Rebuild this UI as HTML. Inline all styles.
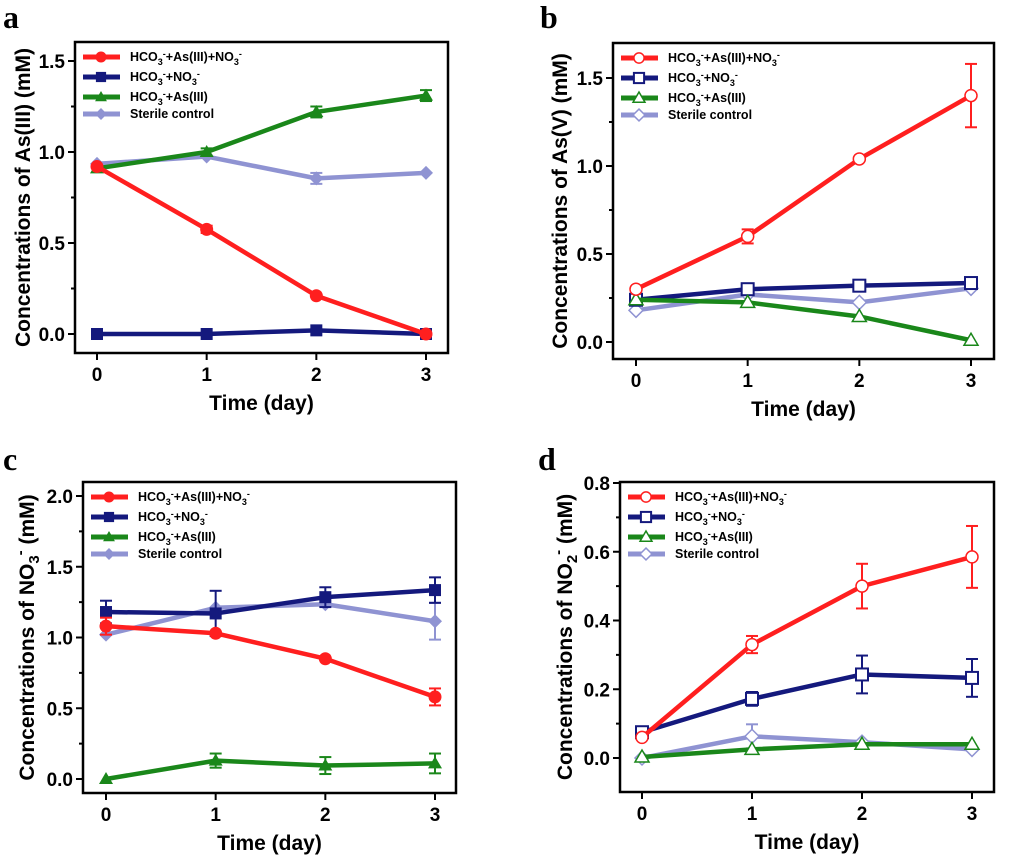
<!DOCTYPE html>
<html><head><meta charset="utf-8"><style>
body{margin:0;background:#fff;}
svg{display:block;font-family:"Liberation Sans",sans-serif;}
</style></head><body>
<svg id="fig" width="1010" height="862" viewBox="0 0 1010 862"></svg>
<script>
const days = [0,1,2,3];
const seriesNames = ["red","blue","green","sterile"];
// panel a
const aRed = [0.92,0.575,0.21,0.0], aRedErr=[0,0.02,0,0];
const aBlue = [0.0,0.0,0.02,0.0], aBlueErr=[0,0,0,0];
const aGreen = [0.91,1.0,1.22,1.31], aGreenErr=[0,0.02,0.03,0.03];
const aSterile = [0.935,0.975,0.855,0.885], aSterileErr=[0,0,0.03,0];
const aTicks = [0.0,0.5,1.0,1.5];
// panel b
const bRed = [0.3,0.6,1.04,1.4], bRedErr=[0,0.04,0,0.18];
const bBlue = [0.24,0.3,0.32,0.335], bBlueErr=[0,0,0,0];
const bGreen = [0.24,0.225,0.145,0.01], bGreenErr=[0,0,0,0];
const bSterile = [0.18,0.27,0.225,0.305], bSterileErr=[0,0,0,0];
const bTicks = [0.0,0.5,1.0,1.5];
// panel c
const cRed = [1.08,1.03,0.85,0.58], cRedErr=[0.06,0,0,0.06];
const cBlue = [1.18,1.17,1.285,1.335], cBlueErr=[0.08,0.16,0.07,0.09];
const cGreen = [0.0,0.13,0.095,0.11], cGreenErr=[0,0.05,0.06,0.07];
const cSterile = [1.02,1.21,1.235,1.115], cSterileErr=[0,0,0,0.13];
const cTicks = [0.0,0.5,1.0,1.5,2.0];
// panel d
const dRed = [0.06,0.33,0.5,0.585], dRedErr=[0,0.025,0.065,0.09];
const dBlue = [0.075,0.172,0.243,0.233], dBlueErr=[0,0.02,0.055,0.055];
const dGreen = [0.003,0.025,0.04,0.04], dGreenErr=[0,0,0,0];
const dSterile = [0.0,0.063,0.046,0.025], dSterileErr=[0,0.035,0,0];
const dTicks = [0.0,0.2,0.4,0.6,0.8];

const NS="http://www.w3.org/2000/svg";
const svg=document.getElementById('fig');
const COLORS={red:"#ff1f1f",blue:"#14197d",green:"#1a871a",sterile:"#8f93d2"};
const MARK={red:"circle",blue:"square",green:"triangle",sterile:"diamond"};
function mk(tag,attrs,parent){const e=document.createElementNS(NS,tag);for(const k in attrs)e.setAttribute(k,attrs[k]);(parent||svg).appendChild(e);return e;}

function marker(g,type,x,y,col,open,sc){
  sc=sc||1;
  const fill=open?"#fff":col;let e;
  if(type==="circle")e=mk('circle',{cx:x,cy:y,r:(open?6:6.5)*sc,fill:fill,stroke:col,'stroke-width':open?1.5:0},g);
  else if(type==="square")e=mk('rect',{x:x-6*sc,y:y-6*sc,width:12*sc,height:12*sc,fill:fill,stroke:col,'stroke-width':open?2:0},g);
  else if(type==="triangle")e=mk('polygon',{points:`${x},${y-7*sc} ${x+7*sc},${y+5*sc} ${x-7*sc},${y+5*sc}`,fill:fill,stroke:col,'stroke-width':open?1.5:0},g);
  else e=mk('polygon',{points:`${x},${y-7*sc} ${x+7*sc},${y} ${x},${y+7*sc} ${x-7*sc},${y}`,fill:fill,stroke:col,'stroke-width':open?1.5:0},g);
  return e;
}

function legendText(parent,x,y,kind){
  const t=mk('text',{x:x,y:y,'font-size':12.5,'font-weight':'bold',fill:'#000'},parent);
  function add(s,sub){const ts=mk('tspan',{},t);ts.textContent=s;if(sub==='sub'){ts.setAttribute('font-size','9');ts.setAttribute('dy','4');}else if(sub==='sup'){ts.setAttribute('font-size','9');ts.setAttribute('dy','-8');}else if(sub==='back'){ts.setAttribute('dy','4');}return ts;}
  if(kind==="sterile"){add("Sterile control");return t;}
  add("HCO");add("3","sub");add("-","sup");add(kind==="green"?"+As(III)":(kind==="red"?"+As(III)+NO":"+NO"),'back');
  if(kind!=="green"){add("3","sub");add("-","sup");}
  return t;
}

function panel(o){
  const g=mk('g',{});
  
  
  const xs=d=>o.x0+(o.x3-o.x0)*d/3;
  const ys=v=>o.y0-(o.y0-o.yt)*v/o.tv;
  const box=mk('rect',{x:o.L,y:o.T,width:o.R-o.L,height:o.B-o.T,fill:'none',stroke:'#000','stroke-width':2.5},g);
  
  const step=o.ticks[1]-o.ticks[0];
  o.ticks.forEach((v,i)=>{
    mk('line',{x1:o.L-7,x2:o.L,y1:ys(v),y2:ys(v),stroke:'#000','stroke-width':2},g);
    const t=mk('text',{x:o.L-10,y:ys(v)+7,'text-anchor':'end','font-size':19,'font-weight':'bold'},g);
    t.textContent=v.toFixed(1);
    
    const m=ys(v+step/2);if(m>o.T)mk('line',{x1:o.L-4,x2:o.L,y1:m,y2:m,stroke:'#000','stroke-width':2},g);
  });
  days.forEach(d=>{
    mk('line',{x1:xs(d),x2:xs(d),y1:o.B,y2:o.B+7,stroke:'#000','stroke-width':2},g);
    const t=mk('text',{x:xs(d),y:o.B+28,'text-anchor':'middle','font-size':19,'font-weight':'bold'},g);
    t.textContent=d;
    
  });
  const xt=mk('text',{x:(o.L+o.R)/2,y:o.B+57,'text-anchor':'middle','font-size':21,'font-weight':'bold'},g);
  xt.textContent="Time (day)";
  
  const cy=(o.T+o.B)/2;
  const yt=mk('text',{x:0,y:0,transform:`translate(${o.ytx},${cy}) rotate(-90)`,'text-anchor':'middle','font-size':21,'font-weight':'bold'},g);
  
  o.ytitle.forEach(p=>{const ts=mk('tspan',{},yt);ts.textContent=p[0];
    if(p[1]==='sub'){ts.setAttribute('font-size','15');ts.setAttribute('dy','5');}
    if(p[1]==='sup'){ts.setAttribute('font-size','15');ts.setAttribute('dy','-14');}
    if(p[1]==='back'){ts.setAttribute('font-size','21');ts.setAttribute('dy','9');}});
  const pl=mk('text',{x:o.lx,y:o.ly,'font-size':32,'font-weight':'bold','font-family':'"Liberation Serif",serif'},g);
  pl.textContent=o.letter;
  
  const order=["sterile","blue","green","red"];
  order.forEach(s=>{
    const vals=o.data[s][0],errs=o.data[s][1],col=COLORS[s];
    const sg=mk('g',{},g);
    
    const pts=days.map(d=>xs(d)+","+ys(vals[d])).join(" ");
    mk('polyline',{points:pts,fill:'none',stroke:col,'stroke-width':4.5,'stroke-linejoin':'round'},sg);
    days.forEach(d=>{
      const e=errs[d];
      if(e>0){const x=xs(d),y1=ys(vals[d]+e),y2=ys(vals[d]-e);
        mk('line',{x1:x,x2:x,y1:y1,y2:y2,stroke:col,'stroke-width':2},sg);
        mk('line',{x1:x-6,x2:x+6,y1:y1,y2:y1,stroke:col,'stroke-width':2},sg);
        mk('line',{x1:x-6,x2:x+6,y1:y2,y2:y2,stroke:col,'stroke-width':2},sg);}
      const m=marker(sg,MARK[s],xs(d),ys(vals[d]),col,o.open);
      
    });
  });
  const lg=mk('g',{},g);
  
  const ly=[15,35,55,72];
  ["red","blue","green","sterile"].forEach((s,i)=>{
    const y=o.T+ly[i];
    const eg=mk('g',{},lg);
    
    mk('line',{x1:o.L+8,x2:o.L+45,y1:y,y2:y,stroke:COLORS[s],'stroke-width':5},eg);
    marker(eg,MARK[s],o.L+26,y,COLORS[s],o.open,0.85);
    legendText(eg,o.L+55,y+4,s);
  });
}

panel({letter:'a',L:75,T:42,R:448,B:353,x0:97,x3:426,y0:334,yt:61,tv:1.5,ticks:aTicks,open:false,ytx:30,lx:3,ly:28,
  ytitle:[["Concentrations of As(III) (mM)"]],
  data:{red:[aRed,aRedErr],blue:[aBlue,aBlueErr],green:[aGreen,aGreenErr],sterile:[aSterile,aSterileErr]}});
panel({letter:'b',L:613,T:43,R:994,B:359,x0:636,x3:971,y0:342,yt:78,tv:1.5,ticks:bTicks,open:true,ytx:567,lx:540,ly:28,
  ytitle:[["Concentrations of As(V) (mM)"]],
  data:{red:[bRed,bRedErr],blue:[bBlue,bBlueErr],green:[bGreen,bGreenErr],sterile:[bSterile,bSterileErr]}});
panel({letter:'c',L:83,T:482,R:456,B:793,x0:106,x3:435,y0:779,yt:496,tv:2.0,ticks:cTicks,open:false,ytx:34,lx:3,ly:470,
  ytitle:[["Concentrations of NO"],["3",'sub'],["-",'sup'],[" (mM)",'back']],
  data:{red:[cRed,cRedErr],blue:[cBlue,cBlueErr],green:[cGreen,cGreenErr],sterile:[cSterile,cSterileErr]}});
panel({letter:'d',L:620,T:482,R:994,B:792,x0:642,x3:972,y0:758,yt:483,tv:0.8,ticks:dTicks,open:true,ytx:572,lx:538,ly:470,
  ytitle:[["Concentrations of NO"],["2",'sub'],["-",'sup'],[" (mM)",'back']],
  data:{red:[dRed,dRedErr],blue:[dBlue,dBlueErr],green:[dGreen,dGreenErr],sterile:[dSterile,dSterileErr]}});
</script>
</body></html>
